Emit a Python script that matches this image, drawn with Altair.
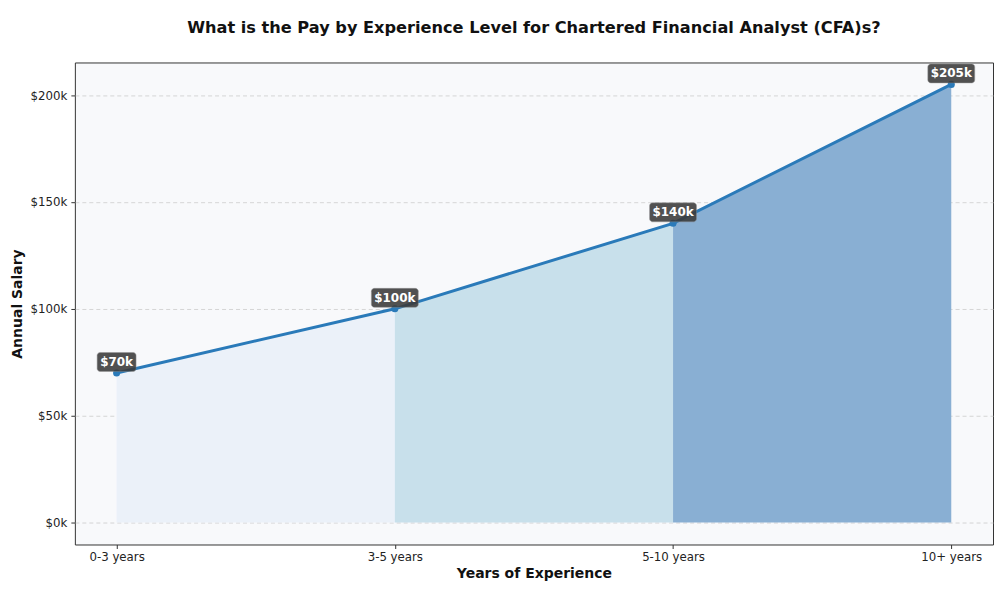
import altair as alt
import pandas as pd

categories = ["0-3 years", "3-5 years", "5-10 years", "10+ years"]
salaries = [70000, 100000, 140000, 205000]
labels = ["$70k", "$100k", "$140k", "$205k"]
segment_colors = ["#ebf1f9", "#c8e0eb", "#89afd3"]

FONT = "DejaVu Sans"

pts = pd.DataFrame({
    "idx": list(range(len(categories))),
    "category": categories,
    "salary": salaries,
    "label": labels,
})

rows = []
for i in range(len(categories) - 1):
    rows.append({"idx": i, "salary": salaries[i], "seg": i})
    rows.append({"idx": i + 1, "salary": salaries[i + 1], "seg": i})
area_df = pd.DataFrame(rows)

cat_expr = "[" + ",".join("'" + c + "'" for c in categories) + "][datum.value]"

x_scale = alt.Scale(domain=[-0.15, 3.15], nice=False, zero=False)
y_scale = alt.Scale(domain=[-10250, 215250], nice=False, zero=False)

x_axis = alt.Axis(
    values=[0, 1, 2, 3], labelExpr=cat_expr, grid=False, domain=False,
    tickColor="#333", tickSize=4, labelPadding=3, labelFontSize=11.8,
    labelColor="#222", labelFont=FONT,
    title="Years of Experience", titleFont=FONT, titleFontSize=14,
    titleFontWeight="bold", titleColor="#111", titleY=29, titleBaseline="middle",
)
y_axis = alt.Axis(
    values=[0, 50000, 100000, 150000, 200000],
    labelExpr="'$' + format(datum.value/1000, 'd') + 'k'",
    grid=True, gridDash=[4, 3], gridColor="#cccccc", gridWidth=0.8,
    domain=False, tickColor="#333", tickSize=4, labelPadding=4,
    labelFontSize=11.8, labelColor="#222", labelFont=FONT,
    title="Annual Salary", titleFont=FONT, titleFontSize=14,
    titleFontWeight="bold", titleColor="#111",
    titleX=-57, titleY=241.5, titleAngle=270, titleAlign="center",
    titleBaseline="middle",
)

base_x = alt.X("idx:Q", scale=x_scale, axis=x_axis)
base_y = alt.Y("salary:Q", scale=y_scale, axis=y_axis, stack=None)

areas = alt.Chart(area_df).transform_calculate(base="0").mark_area(opacity=1).encode(
    x=base_x,
    y=base_y,
    y2=alt.Y2("base:Q"),
    color=alt.Color("seg:N", scale=alt.Scale(domain=[0, 1, 2], range=segment_colors), legend=None),
    detail="seg:N",
)

line = alt.Chart(pts).mark_line(color="#2a7ab9", strokeWidth=3).encode(
    x=alt.X("idx:Q", scale=x_scale), y=alt.Y("salary:Q", scale=y_scale)
)
dots = alt.Chart(pts).mark_circle(color="#2a7ab9", size=50, opacity=1).encode(
    x=alt.X("idx:Q", scale=x_scale), y=alt.Y("salary:Q", scale=y_scale)
)

short = alt.Chart(pts).transform_filter("length(datum.label) <= 4").mark_rect(
    color="#3a3a3a", opacity=0.88, cornerRadius=3, stroke="#888", strokeWidth=0.5,
    xOffset=-19.5, x2Offset=19.5, yOffset=-20.5, y2Offset=-1.5,
).encode(
    x=alt.X("idx:Q", scale=x_scale), x2="idx:Q",
    y=alt.Y("salary:Q", scale=y_scale), y2="salary:Q",
)
long = alt.Chart(pts).transform_filter("length(datum.label) > 4").mark_rect(
    color="#3a3a3a", opacity=0.88, cornerRadius=3, stroke="#888", strokeWidth=0.5,
    xOffset=-23.5, x2Offset=23.5, yOffset=-20.5, y2Offset=-1.5,
).encode(
    x=alt.X("idx:Q", scale=x_scale), x2="idx:Q",
    y=alt.Y("salary:Q", scale=y_scale), y2="salary:Q",
)
texts = alt.Chart(pts).mark_text(
    color="white", font=FONT, fontSize=12, fontWeight="bold", dy=-11, baseline="middle",
).encode(
    x=alt.X("idx:Q", scale=x_scale), y=alt.Y("salary:Q", scale=y_scale), text="label:N"
)

chart = alt.layer(areas, line, dots, short, long, texts).properties(
    width=920, height=483,
    autosize=alt.AutoSizeParams(type="none"),
    padding={"left": 67, "top": 54, "right": 1, "bottom": 40},
    background="white",
    title=alt.TitleParams(
        "What is the Pay by Experience Level for Chartered Financial Analyst (CFA)s?",
        font=FONT, fontSize=16.2, fontWeight="bold", color="#111", anchor="middle",
        offset=26,
    ),
).configure_view(
    fill="#f8f9fb", stroke="#333", strokeWidth=1
)

chart.save("out.html", embed_options={"renderer": "svg", "actions": False})
